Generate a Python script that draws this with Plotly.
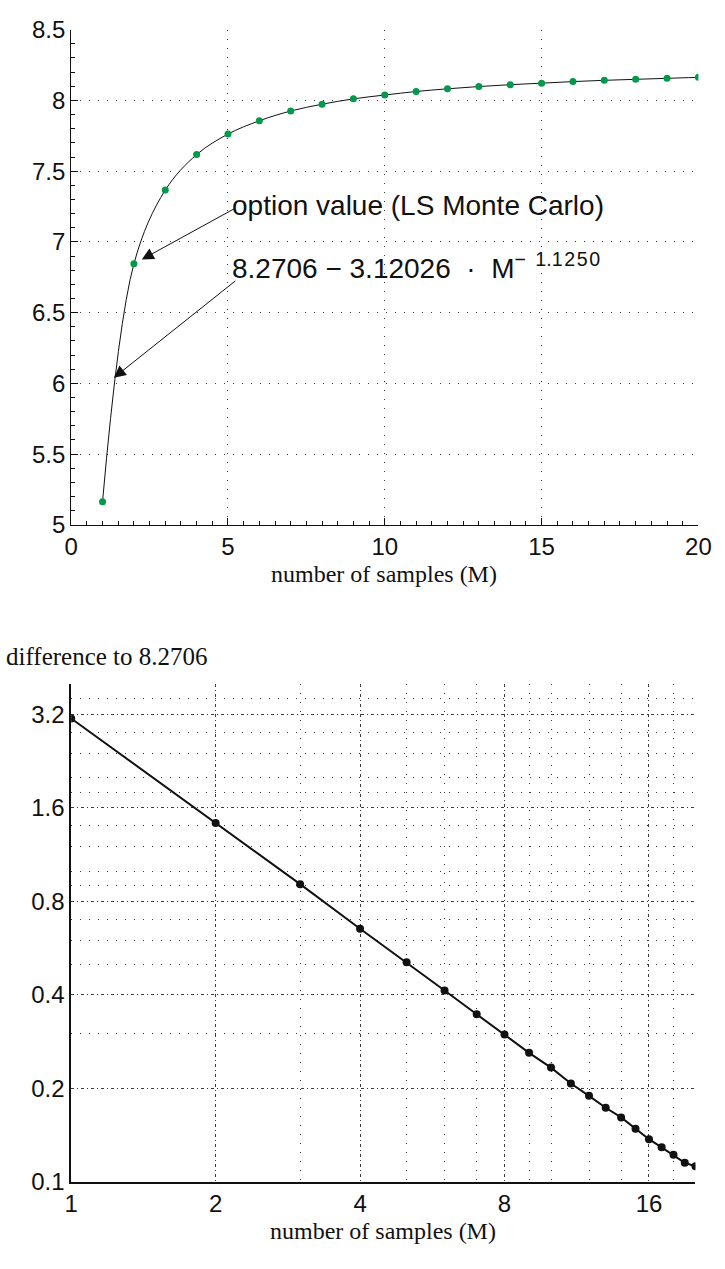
import math
import plotly.graph_objects as go

# ---------------- data ----------------
samples = list(range(1, 21))
option_value = [5.164, 6.845, 7.366, 7.617, 7.762, 7.856, 7.925, 7.973, 8.011, 8.038,
                8.063, 8.082, 8.098, 8.111, 8.122, 8.133, 8.142, 8.149, 8.156, 8.163]
difference = [3.107, 1.432, 0.909, 0.653, 0.509, 0.413, 0.346, 0.298, 0.260, 0.233,
              0.207, 0.189, 0.173, 0.161, 0.148, 0.137, 0.129, 0.122, 0.115, 0.112]

top_xticks = [0, 5, 10, 15, 20]
top_yticks = [5, 5.5, 6, 6.5, 7, 7.5, 8, 8.5]
top_ytext = ["5", "5.5", "6", "6.5", "7", "7.5", "8", "8.5"]

log_xticks = [1, 2, 4, 8, 16]
log_xtext = ["1", "2", "4", "8", "16"]
log_xminor = [3, 5, 6, 7, 9, 10, 12, 14, 18, 20]
log_yticks = [0.1, 0.2, 0.4, 0.8, 1.6, 3.2]
log_ytext = ["0.1", "0.2", "0.4", "0.8", "1.6", "3.2"]
log_yminor = [0.3, 0.5, 0.6, 0.7, 0.9, 1.0, 1.2, 1.4, 1.8, 2.0, 2.4, 2.8, 3.6, 4.0]

label_series = "option value (LS Monte Carlo)"
label_fit = ("8.2706 \u2212 3.12026 \u00a0\u00b7\u00a0 M"
             "<sup>\u2212\u2009 1.1\u200a2\u200a5\u200a0</sup>")
label_diff = "difference to 8.2706"
label_x = "number of samples (M)"

# ---------------- styling ----------------
W, H = 725, 1269
SANS = "Liberation Sans, Arial, sans-serif"
SERIF = "Liberation Serif, Times New Roman, serif"
GREEN = "#009a4a"
GRID = "#3a3a3a"
DOT = "1px,8px"
DASHDOT = "3px,3px,1px,3px"

def px_x(p):
    return p / W

def px_y(p):
    return 1 - p / H

fig = go.Figure()

# top chart: smooth curve + green points
fig.add_trace(go.Scatter(x=samples, y=option_value, mode="lines",
                         line=dict(color="#111111", width=1, shape="spline", smoothing=1.0),
                         xaxis="x", yaxis="y", hoverinfo="skip", showlegend=False))
fig.add_trace(go.Scatter(x=samples, y=option_value, mode="markers",
                         marker=dict(color=GREEN, size=7),
                         xaxis="x", yaxis="y", showlegend=False))

# bottom chart: differences on log-log axes
fig.add_trace(go.Scatter(x=samples, y=difference, mode="lines+markers",
                         line=dict(color="#111111", width=2),
                         marker=dict(color="#111111", size=8),
                         xaxis="x2", yaxis="y2", showlegend=False))

tickfont = dict(family=SANS, size=24, color="#111111")

fig.update_layout(
    width=W, height=H,
    margin=dict(l=0, r=0, t=0, b=0),
    paper_bgcolor="white", plot_bgcolor="white",
    showlegend=False,
    xaxis=dict(domain=[px_x(66), px_x(711)], anchor="y", range=[0, 20],
               tickmode="array", tickvals=top_xticks, ticks="inside", ticklen=7,
               tickcolor="#111111", tickfont=tickfont,
               showline=True, linecolor="#111111", linewidth=1, zeroline=False,
               showgrid=True, gridcolor=GRID, gridwidth=1, griddash=DOT,
               minor=dict(dtick=0.5, ticks="inside", ticklen=4, tickcolor="#111111",
                          showgrid=False)),
    yaxis=dict(domain=[px_y(522), px_y(16)], anchor="x", range=[5, 8.5],
               tickmode="array", tickvals=top_yticks, ticktext=top_ytext,
               ticks="inside", ticklen=7, tickcolor="#111111", tickfont=tickfont,
               showline=True, linecolor="#111111", linewidth=1, zeroline=False,
               showgrid=True, gridcolor=GRID, gridwidth=1, griddash=DOT,
               minor=dict(dtick=0.1, ticks="inside", ticklen=4, tickcolor="#111111",
                          showgrid=False)),
    xaxis2=dict(domain=[px_x(66), px_x(708)], anchor="y2", type="log",
                range=[0, math.log10(20)],
                tickmode="array", tickvals=log_xticks, ticktext=log_xtext,
                ticks="", tickfont=tickfont,
                showline=True, linecolor="#111111", linewidth=1.5, zeroline=False,
                showgrid=True, gridcolor=GRID, gridwidth=1, griddash=DASHDOT,
                minor=dict(tickmode="array", tickvals=log_xminor, showgrid=True,
                           gridcolor=GRID, gridwidth=1, griddash=DOT)),
    yaxis2=dict(domain=[px_y(1193), px_y(685)], anchor="x2", type="log",
                range=[-1, math.log10(4)],
                tickmode="array", tickvals=log_yticks, ticktext=log_ytext,
                ticks="", tickfont=tickfont,
                showline=True, linecolor="#111111", linewidth=1.5, zeroline=False,
                showgrid=True, gridcolor=GRID, gridwidth=1, griddash=DASHDOT,
                minor=dict(tickmode="array", tickvals=log_yminor, showgrid=True,
                           gridcolor=GRID, gridwidth=1, griddash=DOT)),
)

annotations = [
    # arrow to the data point
    dict(x=samples[1], y=option_value[1], xref="x", yref="y", text="",
         showarrow=True, arrowhead=2, arrowsize=2.4, arrowwidth=1, arrowcolor="#111111",
         standoff=9, ax=102, ay=-56),
    # arrow to the fitted curve
    dict(x=1.36, y=6.04, xref="x", yref="y", text="",
         showarrow=True, arrowhead=2, arrowsize=2.4, arrowwidth=1, arrowcolor="#111111",
         standoff=0, ax=123, ay=-98),
    dict(x=px_x(229), y=px_y(196), xref="paper", yref="paper", text=label_series,
         showarrow=False, xanchor="left", yanchor="middle",
         font=dict(family=SANS, size=28, color="#111111")),
    dict(x=px_x(229), y=px_y(257), xref="paper", yref="paper", text=label_fit,
         showarrow=False, xanchor="left", yanchor="middle",
         font=dict(family=SANS, size=28, color="#111111")),
    dict(x=px_x(388), y=px_y(572), xref="paper", yref="paper", text=label_x,
         showarrow=False, xanchor="center", yanchor="middle",
         font=dict(family=SERIF, size=24, color="#111111")),
    dict(x=px_x(-3), y=px_y(656), xref="paper", yref="paper", text=label_diff,
         showarrow=False, xanchor="left", yanchor="middle",
         font=dict(family=SERIF, size=25, color="#111111")),
    dict(x=px_x(387), y=px_y(1243), xref="paper", yref="paper", text=label_x,
         showarrow=False, xanchor="center", yanchor="middle",
         font=dict(family=SERIF, size=24, color="#111111")),
]
fig.update_layout(annotations=annotations)

fig.write_html("out.html",
               post_script="document.body.style.margin='0';document.body.style.padding='0';")
